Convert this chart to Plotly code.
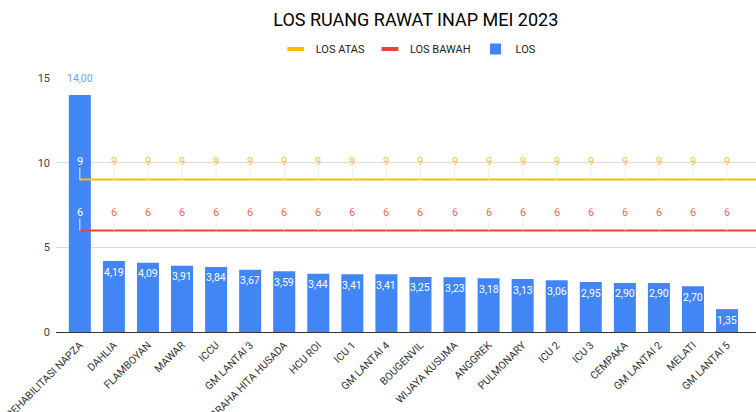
import plotly.graph_objects as go

categories = ["REHABILITASI NAPZA", "DAHLIA", "FLAMBOYAN", "MAWAR", "ICCU", "GM LANTAI 3",
              "GRAHA HITA HUSADA", "HCU ROI", "ICU 1", "GM LANTAI 4", "BOUGENVIL",
              "WIJAYA KUSUMA", "ANGGREK", "PULMONARY", "ICU 2", "ICU 3", "CEMPAKA",
              "GM LANTAI 2", "MELATI", "GM LANTAI 5"]
los = [14.00, 4.19, 4.09, 3.91, 3.84, 3.67, 3.59, 3.44, 3.41, 3.41, 3.25, 3.23, 3.18,
       3.13, 3.06, 2.95, 2.90, 2.90, 2.70, 1.35]
los_atas = [9] * 20
los_bawah = [6] * 20
y_ticks = [0, 5, 10, 15]

BLUE = "#4285f4"
YELLOW = "#fbbc04"
RED = "#ea4335"
FONT = "Roboto"

n = len(categories)
xs = list(range(n))
X_RANGE = [-0.7, 19.85]

fig = go.Figure()

# bars
fig.add_trace(go.Bar(
    x=xs, y=los, name="LOS", marker=dict(color=BLUE, line=dict(width=0)),
    width=0.646, showlegend=False, hoverinfo="skip",
))

annotations = []
for i, v in enumerate(los):
    outside = v >= 10
    annotations.append(dict(
        x=i, y=v, xref="x", yref="y", text=f"{v:.2f}".replace(".", ","),
        showarrow=False, yshift=16 if outside else -11,
        font=dict(color="#6fa0f6" if outside else "white", size=10.5, family=FONT),
    ))

for vals, color, lbl_color in [(los_atas, YELLOW, "#f9c33a"), (los_bawah, RED, "#ef6a5d")]:
    fig.add_trace(go.Scatter(
        x=xs + [X_RANGE[1]], y=vals + [vals[-1]], mode="lines", showlegend=False,
        line=dict(color=color, width=2), hoverinfo="skip",
    ))
    fig.add_trace(go.Scatter(
        x=xs, y=vals, mode="markers", showlegend=False,
        marker=dict(size=1, color="rgba(0,0,0,0)"),
        error_y=dict(type="data", symmetric=False, array=[0.7] * n, arrayminus=[0] * n,
                     color="#efefef", thickness=1, width=0),
        hoverinfo="skip",
    ))
    for i, v in enumerate(vals):
        on_bar = los[i] > v + 1
        annotations.append(dict(
            x=i, y=v, xref="x", yref="y", text=str(v), showarrow=False, yshift=18,
            font=dict(color="white" if on_bar else lbl_color, size=11, family=FONT),
        ))

# legend entries
for name, color, symbol, size, lw in [("LOS ATAS", YELLOW, "line-ew-open", 12, 4),
                                      ("LOS BAWAH", RED, "line-ew-open", 12, 4),
                                      ("LOS", BLUE, "square", 11, 0)]:
    fig.add_trace(go.Scatter(
        x=[None], y=[None], mode="markers", name=name,
        marker=dict(symbol=symbol, size=size, color=color,
                    line=dict(color=color, width=lw)),
    ))

fig.update_layout(
    width=756, height=412,
    margin=dict(l=56, r=0, t=78, b=80, autoexpand=False),
    paper_bgcolor="white", plot_bgcolor="white",
    font=dict(family=FONT, color="#222"),
    title=dict(text="LOS RUANG RAWAT INAP MEI 2023", x=0.55, xref="container", xanchor="center",
               y=0.952, yref="container", yanchor="middle",
               font=dict(size=18, color="#000", family=FONT)),
    legend=dict(orientation="h", x=0.54, xref="container", xanchor="center",
                y=0.881, yref="container", yanchor="middle",
                font=dict(size=11, color="#222", family=FONT), traceorder="normal",
                itemwidth=30, tracegroupgap=0),
    showlegend=True,
    annotations=annotations,
)
fig.update_xaxes(
    range=X_RANGE, tickmode="array", tickvals=xs, ticktext=categories,
    tickangle=-45, tickfont=dict(size=10.5, color="#333", family=FONT),
    showgrid=False, zeroline=False, showline=False, ticks="", automargin=False,
    ticklabelstandoff=4,
)
fig.update_yaxes(
    range=[0, 15], tickvals=y_ticks, tickfont=dict(size=11, color="#444", family=FONT),
    showgrid=True, gridcolor="#dcdcdc", gridwidth=1,
    zeroline=True, zerolinecolor="#333", zerolinewidth=1, ticks="", ticklabelstandoff=5,
    automargin=False,
)
fig.write_html("out.html", config={"displayModeBar": False},
               post_script="document.body.style.margin='0';")
